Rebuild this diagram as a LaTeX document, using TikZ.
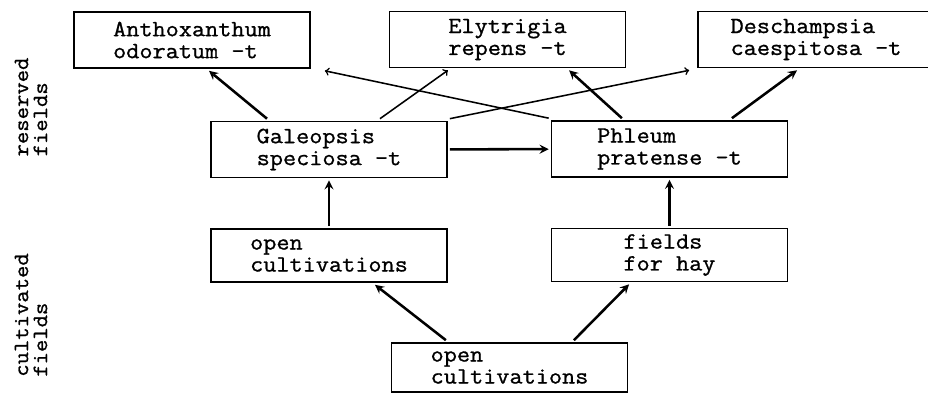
\documentclass[tikz,border=0pt]{standalone}
\usepackage{fontspec}
\newfontfamily\typewriter{Latin Modern Mono}[FakeStretch=1.1, FakeBold=1]
\usetikzlibrary{arrows,shapes,positioning,calc}

\newcommand{\boxfont}{\typewriter\fontsize{16.5}{15.6}\selectfont}
\newcommand{\sidefont}{\typewriter\fontsize{15.5}{13.5}\selectfont}

\tikzset{
  box/.style={draw, line width=1pt, minimum width=5.9cm, minimum height=1.4cm,
              inner sep=0pt, outer sep=2pt, align=left, font=\boxfont},
  side/.style={rotate=90, align=left, font=\sidefont},
  thick arrow/.style={-stealth, line width=1.8pt},
  thin arrow/.style={->, line width=1.1pt}
}

\begin{document}
\begin{tikzpicture}[x=0.025cm, y=-0.025cm]
      \useasboundingbox (0,0) rectangle (928,393);

      % Side labels
      \node[side] (res) at (31,107) {reserved\\fields};
      \node[side] (cul) at (31,315) {cultivated\\fields};

      % Reserved fields, top row
      \node[box] (anth) at (192,40) {Anthoxanthum\\odoratum -t};
      \node[box] (elyt) at (507.5,39.5) {Elytrigia\\repens -t};
      \node[box] (desc) at (816,39.5) {Deschampsia\\caespitosa -t};

      % Reserved fields, middle row
      \node[box] (gale) at (329,149.5) {Galeopsis\\speciosa -t};
      \node[box] (phle) at (669.5,149) {Phleum\\pratense -t};

      % Cultivated fields
      \node[box, minimum height=1.325cm] (open) at (329,255.5) {open\\cultivations};
      \node[box, minimum height=1.325cm] (hay) at (669.5,255) {fields\\for hay};
      \node[box, minimum height=1.225cm] (base) at (509.5,367.5) {open\\cultivations};

      % Connections
      \draw[thick arrow] ([xshift=-1.55cm]gale.north) -- ([xshift=0.425cm]anth.south);
      \draw[thin arrow] ([xshift=1.275cm]gale.north) -- ([xshift=-1.49cm]elyt.south);
      \draw[thin arrow] (gale.north east) -- ([xshift=-0.15cm]desc.south west);
      \draw[thin arrow] (phle.north west) -- ([xshift=0.3cm]anth.south east);
      \draw[thick arrow] ([xshift=-1.19cm]phle.north) -- ([xshift=1.54cm]elyt.south);
      \draw[thick arrow] ([xshift=1.56cm]phle.north) -- ([xshift=-0.475cm]desc.south);
      \draw[thick arrow] (gale) -- (phle);
      \draw[thick arrow] (open) -- (gale);
      \draw[thick arrow] (hay) -- (phle);
      \draw[thick arrow] ([xshift=-1.59cm]base.north) -- ([xshift=1.15cm]open.south);
      \draw[thick arrow] ([xshift=1.61cm]base.north) -- ([xshift=-1.01cm]hay.south);
\end{tikzpicture}
\end{document}
